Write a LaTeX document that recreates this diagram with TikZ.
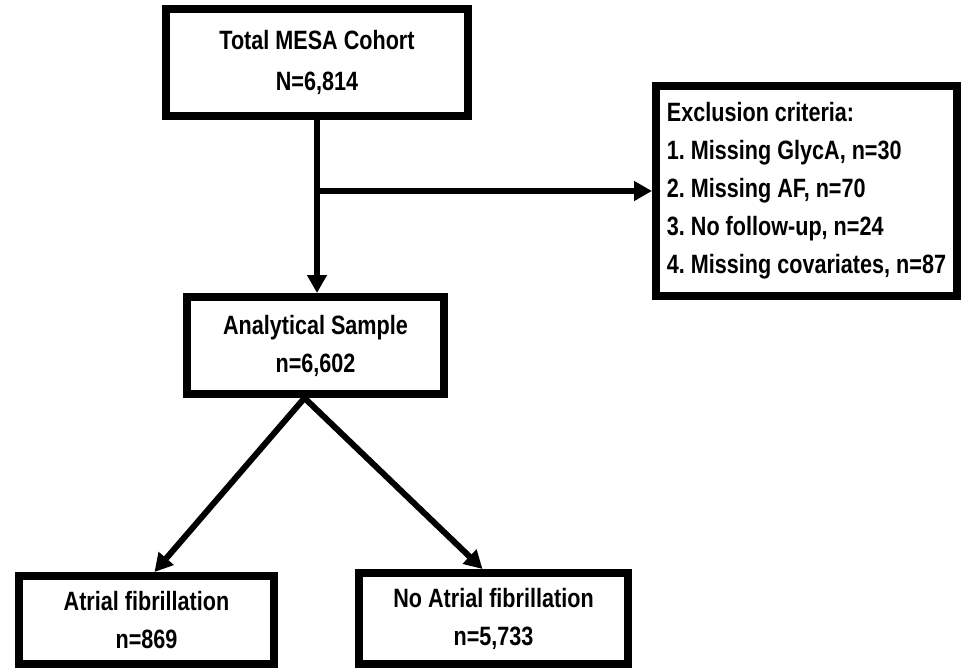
\documentclass[tikz,border=0pt]{standalone}
\usepackage{fontspec}
\setmainfont{Liberation Sans}[FakeStretch=0.815,BoldFeatures={FakeStretch=0.815}]
\usetikzlibrary{arrows.meta}
\frenchspacing

\begin{document}
\begin{tikzpicture}[%
    x=1pt,y=-1pt,%
    box/.style={draw,line width=8pt,inner sep=0pt,align=center,%
      font=\bfseries\fontsize{26.5}{38}\selectfont},%
    flow/.style={line width=6pt,-{Triangle[length=18pt,width=19pt]}},%
  ]
  %
  % Cadre
  %
  \fill[white] (0,0) rectangle (961,669);
  \useasboundingbox (0,0) rectangle (961,669);

  %
  % Positions
  %
  \pgfmathsetmacro{\xc}{317};%
  \pgfmathsetmacro{\xs}{315.5};%
  \pgfmathsetmacro{\xe}{806.5};%
  \pgfmathsetmacro{\xa}{146.5};%
  \pgfmathsetmacro{\xn}{493.5};%

  \pgfmathsetmacro{\yc}{62.5};%
  \pgfmathsetmacro{\ye}{191};%
  \pgfmathsetmacro{\ys}{345.5};%
  \pgfmathsetmacro{\ya}{620};%
  \pgfmathsetmacro{\yn}{618.5};%

  %
  % Boites
  %
  \node[box,minimum width=302pt,minimum height=107pt,
    font=\bfseries\fontsize{26.5}{41}\selectfont] (cohort) at (\xc,\yc)
    {Total MESA Cohort\\N=6,814};
  \node[box,align=left,minimum width=301pt,minimum height=210pt] (exclusion) at (\xe,\ye)
    {Exclusion criteria:\\1. Missing GlycA, n=30\\2. Missing AF, n=70\\3. No follow-up, n=24\\4. Missing covariates, n=87};
  \node[box,minimum width=257pt,minimum height=97pt] (sample) at (\xs,\ys)
    {Analytical Sample\\n=6,602};
  \node[box,minimum width=255pt,minimum height=88pt] (af) at (\xa,\ya)
    {Atrial fibrillation\\n=869};
  \node[box,minimum width=269pt,minimum height=91pt] (noaf) at (\xn,\yn)
    {No Atrial fibrillation\\n=5,733};

  %
  % Fleches
  %
  % Exclusion
  \coordinate (split) at (cohort.south |- exclusion.west);
  \draw[flow] (cohort.south) -- (cohort.south |- sample.north);
  \draw[flow] (split) -- (exclusion.west);

  % Separation AF / pas d'AF
  \coordinate (fork) at ([xshift=-11pt]sample.south);
  \draw[flow] (fork) -- ([xshift=8pt]af.north);
  \draw[flow] (fork) -- ([xshift=-11pt]noaf.north);

\end{tikzpicture}
\end{document}
